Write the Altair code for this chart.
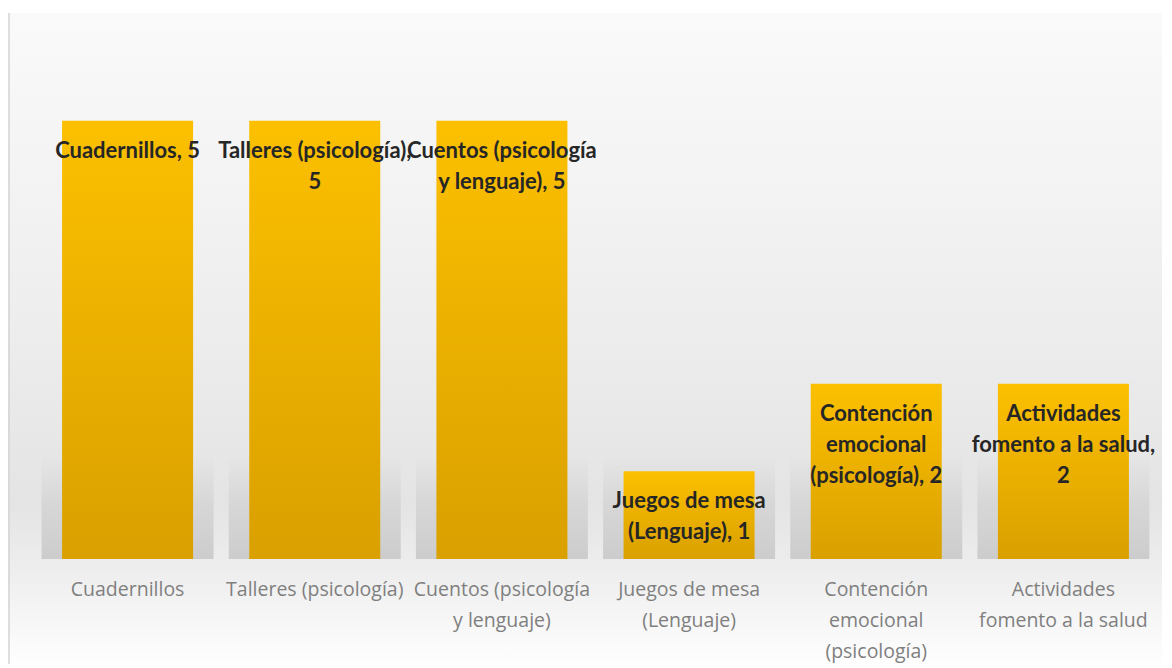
import altair as alt
import pandas as pd

categories = [
    "Cuadernillos",
    "Talleres (psicología)",
    "Cuentos (psicología|y lenguaje)",
    "Juegos de mesa|(Lenguaje)",
    "Contención|emocional|(psicología)",
    "Actividades|fomento a la salud",
]
values = [5, 5, 5, 1, 2, 2]
data_labels = [
    ["Cuadernillos,  5"],
    ["Talleres (psicología),", "5"],
    ["Cuentos (psicología", "y lenguaje),  5"],
    ["Juegos de mesa", "(Lenguaje),  1"],
    ["Contención", "emocional", "(psicología),  2"],
    ["Actividades", "fomento a la salud,", "2"],
]

df = pd.DataFrame({"cat": categories, "value": values, "label": data_labels})

W, H = 1123, 526

bg = alt.Chart(pd.DataFrame({"d": [0]})).mark_rect(
    clip=False,
    color=alt.Gradient(
        gradient="linear",
        x1=0, x2=0, y1=0, y2=1,
        stops=[
            alt.GradientStop(offset=0, color="#fafafa"),
            alt.GradientStop(offset=0.45, color="#eeeeee"),
            alt.GradientStop(offset=0.75, color="#e4e4e4"),
            alt.GradientStop(offset=0.88, color="#f1f1f1"),
            alt.GradientStop(offset=1, color="#ffffff"),
        ],
    ),
).encode(
    x=alt.value(-26), x2=alt.value(W + 10),
    y=alt.value(-20), y2=alt.value(H + 110),
)

edge = alt.Chart(pd.DataFrame({"d": [0]})).mark_rule(
    color="#d4d4d4", strokeWidth=1.5, clip=False
).encode(x=alt.value(-25), y=alt.value(-20), y2=alt.value(H + 110))

base = alt.Chart(df)

# soft shadow behind each bar
shadow = base.mark_bar(
    width=172,
    color=alt.Gradient(
        gradient="linear",
        x1=0, x2=0, y1=0, y2=1,
        stops=[
            alt.GradientStop(offset=0, color="rgba(90,90,90,0)"),
            alt.GradientStop(offset=0.5, color="rgba(90,90,90,0.10)"),
            alt.GradientStop(offset=1, color="rgba(90,90,90,0.22)"),
        ],
    ),
).encode(
    x=alt.X("cat:N", sort=None),
    y=alt.value(H - 105),
    y2=alt.value(H),
)

bars = base.mark_bar(
    color=alt.Gradient(
        gradient="linear",
        x1=0, x2=0, y1=0, y2=1,
        stops=[
            alt.GradientStop(offset=0, color="#FCC000"),
            alt.GradientStop(offset=1, color="#D9A000"),
        ],
    )
).encode(
    x=alt.X(
        "cat:N",
        sort=None,
        scale=alt.Scale(paddingInner=0.3, paddingOuter=0.15),
        axis=alt.Axis(
            title=None,
            labelAngle=0,
            labelAlign="center",
            domain=False,
            ticks=False,
            zindex=2,
            labelExpr="split(datum.label, '|')",
            labelFont="Open Sans",
            labelFontSize=19.5,
            labelColor="#7f7f7f",
            labelLineHeight=31,
            labelPadding=21,
            labelLimit=400,
            labelOverlap=False,
            labelBaseline="top",
        ),
    ),
    y=alt.Y("value:Q", scale=alt.Scale(domain=[0, 6]), axis=None),
)

texts = base.mark_text(
    baseline="top",
    align="center",
    dy=20,
    font="Lato",
    fontWeight="bold",
    fontSize=22,
    lineHeight=31,
    color="#262626",
).encode(
    x=alt.X("cat:N", sort=None),
    y=alt.Y("value:Q"),
    text="label",
)

chart = alt.layer(bg, edge, shadow, bars, texts).properties(
    width=W,
    height=H,
    padding={"left": 26, "top": 25, "right": 5, "bottom": 105},
    autosize=alt.AutoSizeParams(type="none"),
).configure_view(stroke=None).configure(background="#ffffff")

chart.save("out.html", embed_options={"renderer": "svg", "actions": False})
